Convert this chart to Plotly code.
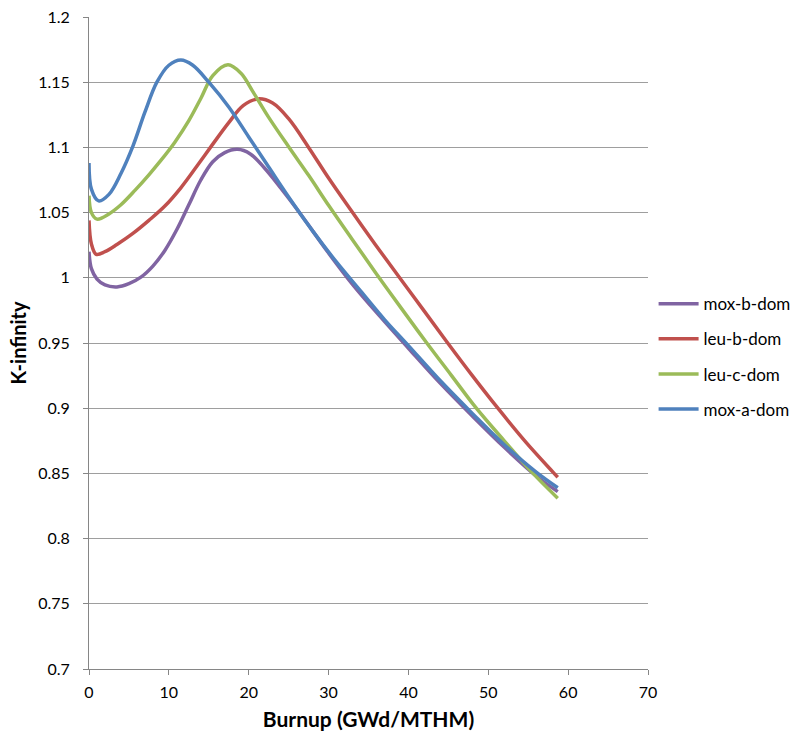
import plotly.graph_objects as go

# Burnup steps (GWd/MTHM) and k-infinity for each fuel case
burnup_mox_b = [0, 0.3, 1, 2, 3.5, 5, 6.5, 8, 9.5, 11, 12.5, 14, 15.5, 17, 18.6, 20.2, 22,
                24, 26, 28, 30, 33, 36.5, 40, 44, 48, 52, 56, 58.7]
kinf_mox_b = [1.020, 1.007, 0.999, 0.9945, 0.993, 0.9955, 1.0005, 1.009, 1.021, 1.037,
              1.056, 1.075, 1.089, 1.096, 1.0985, 1.095, 1.084, 1.069, 1.053, 1.036, 1.019,
              0.995, 0.970, 0.946, 0.919, 0.894, 0.870, 0.848, 0.836]

burnup_leu_b = [0, 0.3, 0.9, 2, 3.5, 5.5, 7.5, 9.5, 11.5, 13.5, 15.5, 17.5, 19.3, 21.2, 23,
                25, 27.5, 30, 32.9, 35.8, 38.9, 41.8, 44.8, 48, 51.2, 54.7, 58.1, 58.7]
kinf_leu_b = [1.044, 1.026, 1.018, 1.020, 1.0255, 1.034, 1.044, 1.055, 1.069, 1.0855, 1.1025,
              1.119, 1.132, 1.1372, 1.134, 1.122, 1.100, 1.0765, 1.051, 1.026, 1.000, 0.976,
              0.951, 0.925, 0.900, 0.874, 0.851, 0.847]

burnup_leu_c = [0, 0.3, 1, 2.5, 4, 5.75, 7.5, 9, 10.75, 12.5, 14, 15.5, 17.4, 19, 20.5, 22.4,
                25, 27.5, 30, 32.9, 36, 39.3, 42.3, 45.4, 48.5, 52, 55.6, 58.7]
kinf_leu_c = [1.063, 1.050, 1.045, 1.049, 1.056, 1.067, 1.079, 1.090, 1.104, 1.1205, 1.1375,
              1.155, 1.1633, 1.157, 1.143, 1.124, 1.1005, 1.0786, 1.0556, 1.030, 1.003,
              0.975, 0.950, 0.925, 0.900, 0.875, 0.850, 0.831]

burnup_mox_a = [0, 0.3, 1.2, 2.5, 4, 5.5, 7, 8.5, 10, 11.5, 13, 15, 17.5, 20, 22.5, 25, 28,
                31, 34, 37, 40, 44, 48, 52, 56, 58.7]
kinf_mox_a = [1.088, 1.068, 1.059, 1.064, 1.080, 1.101, 1.127, 1.150, 1.163, 1.167, 1.163,
              1.150, 1.131, 1.108, 1.085, 1.062, 1.036, 1.012, 0.990, 0.968, 0.948, 0.921,
              0.896, 0.872, 0.851, 0.839]

series = [
    ("mox-b-dom", burnup_mox_b, kinf_mox_b, "#8064A2"),
    ("leu-b-dom", burnup_leu_b, kinf_leu_b, "#C0504D"),
    ("leu-c-dom", burnup_leu_c, kinf_leu_c, "#9BBB59"),
    ("mox-a-dom", burnup_mox_a, kinf_mox_a, "#4F81BD"),
]

x_ticks = [0, 10, 20, 30, 40, 50, 60, 70]
y_ticks = [0.7, 0.75, 0.8, 0.85, 0.9, 0.95, 1, 1.05, 1.1, 1.15, 1.2]

FONT = "Lato, 'Open Sans', sans-serif"
AXIS_GREY = "#868686"

fig = go.Figure()
for name, xs, ys, color in series:
    fig.add_trace(go.Scatter(
        x=xs, y=ys, name=name, mode="lines", legendgroup=name,
        line=dict(color=color, width=3.5, shape="spline", smoothing=1.0),
    ))

fig.update_layout(
    width=790, height=738,
    margin=dict(l=89, r=142, t=17, b=69, autoexpand=False),
    paper_bgcolor="white", plot_bgcolor="white",
    font=dict(family=FONT, size=16, color="#000000"),
    showlegend=True,
    legend=dict(x=1.01, y=0.479, xanchor="left", yanchor="middle",
                font=dict(family=FONT, size=17, color="#000000"),
                tracegroupgap=10, itemwidth=40, bgcolor="rgba(0,0,0,0)"),
    xaxis=dict(
        range=[0, 70], tickvals=x_ticks, ticktext=[str(v) for v in x_ticks],
        showgrid=False, zeroline=False, showline=True, linecolor=AXIS_GREY, linewidth=1,
        ticks="outside", ticklen=5, tickcolor=AXIS_GREY, ticklabelstandoff=4,
        title=dict(text="<b>Burnup (GWd/MTHM)</b>", font=dict(family=FONT, size=21), standoff=12),
        tickfont=dict(family=FONT, size=16),
    ),
    yaxis=dict(
        range=[0.7, 1.2], tickvals=y_ticks, ticktext=[f"{v:g}" for v in y_ticks],
        showgrid=True, gridcolor="#9e9e9e", gridwidth=1, zeroline=False,
        showline=True, linecolor=AXIS_GREY, linewidth=1,
        ticks="outside", ticklen=5, tickcolor=AXIS_GREY, ticklabelstandoff=10,
        title=dict(text="<b>K-infinity</b>", font=dict(family=FONT, size=20), standoff=6),
        tickfont=dict(family=FONT, size=16),
    ),
)

fig.write_html("out.html")
